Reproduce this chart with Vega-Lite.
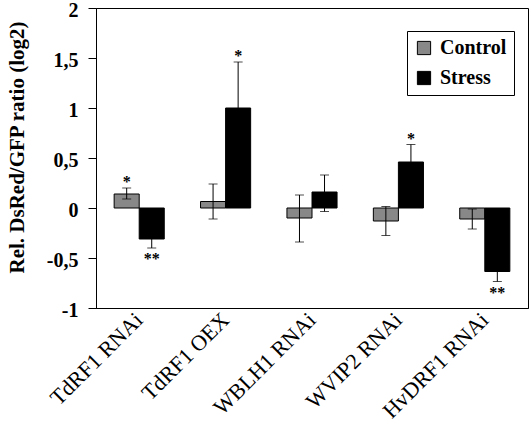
{
  "$schema": "https://vega.github.io/schema/vega-lite/v6.json",
  "width": 432,
  "height": 300,
  "autosize": "none",
  "padding": {"left": 96, "top": 8, "right": 3, "bottom": 120},
  "background": "white",
  "config": {
    "view": {"stroke": "black", "strokeWidth": 1},
    "font": "Liberation Serif"
  },
  "data": {
    "values": [
      {"gene": "TdRF1 RNAi", "series": "Control", "value": 0.14, "lo": 0.09, "hi": 0.2, "sig": "*"},
      {"gene": "TdRF1 RNAi", "series": "Stress", "value": -0.31, "lo": -0.4, "hi": -0.22, "sig": "**"},
      {"gene": "TdRF1 OEX", "series": "Control", "value": 0.065, "lo": -0.11, "hi": 0.24, "sig": ""},
      {"gene": "TdRF1 OEX", "series": "Stress", "value": 1.0, "lo": 0.55, "hi": 1.46, "sig": "*"},
      {"gene": "WBLH1 RNAi", "series": "Control", "value": -0.1, "lo": -0.34, "hi": 0.13, "sig": ""},
      {"gene": "WBLH1 RNAi", "series": "Stress", "value": 0.16, "lo": -0.035, "hi": 0.33, "sig": ""},
      {"gene": "WVIP2 RNAi", "series": "Control", "value": -0.13, "lo": -0.275, "hi": 0.015, "sig": ""},
      {"gene": "WVIP2 RNAi", "series": "Stress", "value": 0.46, "lo": 0.285, "hi": 0.635, "sig": "*"},
      {"gene": "HvDRF1 RNAi", "series": "Control", "value": -0.11, "lo": -0.21, "hi": -0.01, "sig": ""},
      {"gene": "HvDRF1 RNAi", "series": "Stress", "value": -0.635, "lo": -0.735, "hi": -0.535, "sig": "**"}
    ]
  },
  "encoding": {
    "x": {
      "field": "gene",
      "type": "nominal",
      "sort": null,
      "scale": {"paddingInner": 0.42, "paddingOuter": 0.21},
      "axis": {
        "title": null,
        "labelAngle": -45,
        "labelAlign": "right",
        "labelBaseline": "middle",
        "labelFont": "Liberation Serif",
        "labelFontSize": 22,
        "labelColor": "black",
        "labelPadding": 8,
        "ticks": false,
        "domainColor": "black"
      }
    },
    "xOffset": {"field": "series", "type": "nominal", "sort": ["Control", "Stress"]}
  },
  "layer": [
    {
      "mark": {"type": "bar", "stroke": "black", "strokeWidth": 1},
      "encoding": {
        "y": {
          "field": "value",
          "type": "quantitative",
          "scale": {"domain": [-1, 2], "nice": false, "zero": true},
          "axis": {
            "title": "Rel. DsRed/GFP ratio (log2)",
            "titleFont": "Liberation Serif",
            "titleFontSize": 21,
            "titleFontWeight": "bold",
            "titleColor": "black",
            "titleX": -79,
            "titleY": 139,
            "titleAngle": -90,
            "titleAlign": "center",
            "titleBaseline": "middle",
            "values": [-1, -0.5, 0, 0.5, 1, 1.5, 2],
            "labelExpr": "replace(toString(datum.value), '.', ',')",
            "labelFont": "Liberation Serif",
            "labelFontSize": 20,
            "labelFontWeight": "bold",
            "labelColor": "black",
            "labelPadding": 10,
            "labelOffset": 2,
            "tickColor": "black",
            "tickSize": 8,
            "domainColor": "black",
            "grid": false
          }
        },
        "color": {
          "field": "series",
          "type": "nominal",
          "sort": ["Control", "Stress"],
          "scale": {"domain": ["Control", "Stress"], "range": ["#888888", "#000000"]},
          "legend": {
            "title": null,
            "orient": "none",
            "legendX": 311,
            "legendY": 23,
            "fillColor": "white",
            "strokeColor": "black",
            "padding": 7,
            "rowPadding": 10,
            "symbolType": "square",
            "symbolSize": 175,
            "symbolStrokeColor": "black",
            "symbolStrokeWidth": 1,
            "symbolOpacity": 1,
            "labelFont": "Liberation Serif",
            "labelFontSize": 20,
            "labelFontWeight": "bold",
            "labelColor": "black",
            "labelOffset": 6
          }
        }
      }
    },
    {
      "mark": {"type": "rule", "color": "black", "strokeWidth": 1},
      "encoding": {"y": {"datum": 0}}
    },
    {
      "mark": {"type": "rule", "color": "black", "strokeWidth": 1},
      "encoding": {
        "y": {"field": "lo", "type": "quantitative"},
        "y2": {"field": "hi"}
      }
    },
    {
      "mark": {"type": "tick", "color": "black", "thickness": 1, "size": 9, "orient": "horizontal"},
      "encoding": {"y": {"field": "lo", "type": "quantitative"}}
    },
    {
      "mark": {"type": "tick", "color": "black", "thickness": 1, "size": 9, "orient": "horizontal"},
      "encoding": {"y": {"field": "hi", "type": "quantitative"}}
    },
    {
      "transform": [{"filter": "datum.sig != '' && datum.value > 0"}],
      "mark": {"type": "text", "font": "Liberation Serif", "fontSize": 16, "fontWeight": "bold", "baseline": "middle", "dy": -6, "color": "black"},
      "encoding": {
        "y": {"field": "hi", "type": "quantitative"},
        "text": {"field": "sig"}
      }
    },
    {
      "transform": [{"filter": "datum.sig != '' && datum.value < 0"}],
      "mark": {"type": "text", "font": "Liberation Serif", "fontSize": 16, "fontWeight": "bold", "baseline": "middle", "dy": 11, "color": "black"},
      "encoding": {
        "y": {"field": "lo", "type": "quantitative"},
        "text": {"field": "sig"}
      }
    }
  ]
}
